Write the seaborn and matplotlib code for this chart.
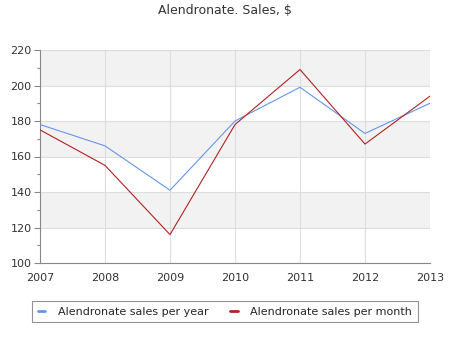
import matplotlib
matplotlib.use("Agg")
import matplotlib.pyplot as plt
import seaborn as sns
import pandas as pd
from matplotlib.ticker import MultipleLocator

years = [2007, 2008, 2009, 2010, 2011, 2012, 2013]
per_year = [178, 166, 141, 180, 199, 173, 190]
per_month = [175, 155, 116, 178, 209, 167, 194]

sns.set_style("white")
plt.rcParams['font.family'] = ['DejaVu Sans']

df = pd.DataFrame({
    "year": years * 2,
    "value": per_year + per_month,
    "series": ["Alendronate sales per year"] * len(years) + ["Alendronate sales per month"] * len(years),
})

fig = plt.figure(figsize=(4.5, 3.5), dpi=100)
ax = fig.add_axes([40/450, 1 - 263/350, 390/450, 213/350])

for lo in [120, 160, 200]:
    ax.axhspan(lo, lo + 20, color="#f2f2f2", zorder=0, lw=0)

sns.lineplot(data=df, x="year", y="value", hue="series",
             palette=["#6495ED", "#B22222"], linewidth=0.8, ax=ax, zorder=3)

ax.set_xlim(2007, 2013)
ax.set_ylim(100, 220)
ax.set_xticks(years)
ax.set_yticks(range(100, 221, 20))
ax.yaxis.set_minor_locator(MultipleLocator(10))
ax.grid(True, axis="both", color="#dddddd", linewidth=0.8, zorder=1)
ax.set_xlabel("")
ax.set_ylabel("")
for s in ["top", "right"]:
    ax.spines[s].set_visible(False)
for s in ["left", "bottom"]:
    ax.spines[s].set_color("#888888")
    ax.spines[s].set_linewidth(0.8)
ax.tick_params(axis="y", which="both", left=True, color="#888888", length=4, width=0.8, labelsize=8, labelcolor="#333333", pad=2)
ax.tick_params(axis="y", which="minor", length=2)
ax.tick_params(axis="x", bottom=False, labelsize=8, labelcolor="#333333", pad=4)

fig.suptitle("Alendronate. Sales, $", x=0.5, y=1 - 4/350, va="top", fontsize=9, color="#333333")

leg = ax.legend(loc="center", bbox_to_anchor=(0.5 - 10/390, -0.228), ncol=2, fontsize=8,
                frameon=True, fancybox=False, handlelength=0.7, columnspacing=2.0,
                borderpad=0.5, handletextpad=1.1, borderaxespad=0)
leg.get_frame().set_edgecolor("#777777")
leg.get_frame().set_linewidth(0.8)
for line in leg.get_lines():
    line.set_linewidth(2)

fig.savefig("out.png", dpi=100)
